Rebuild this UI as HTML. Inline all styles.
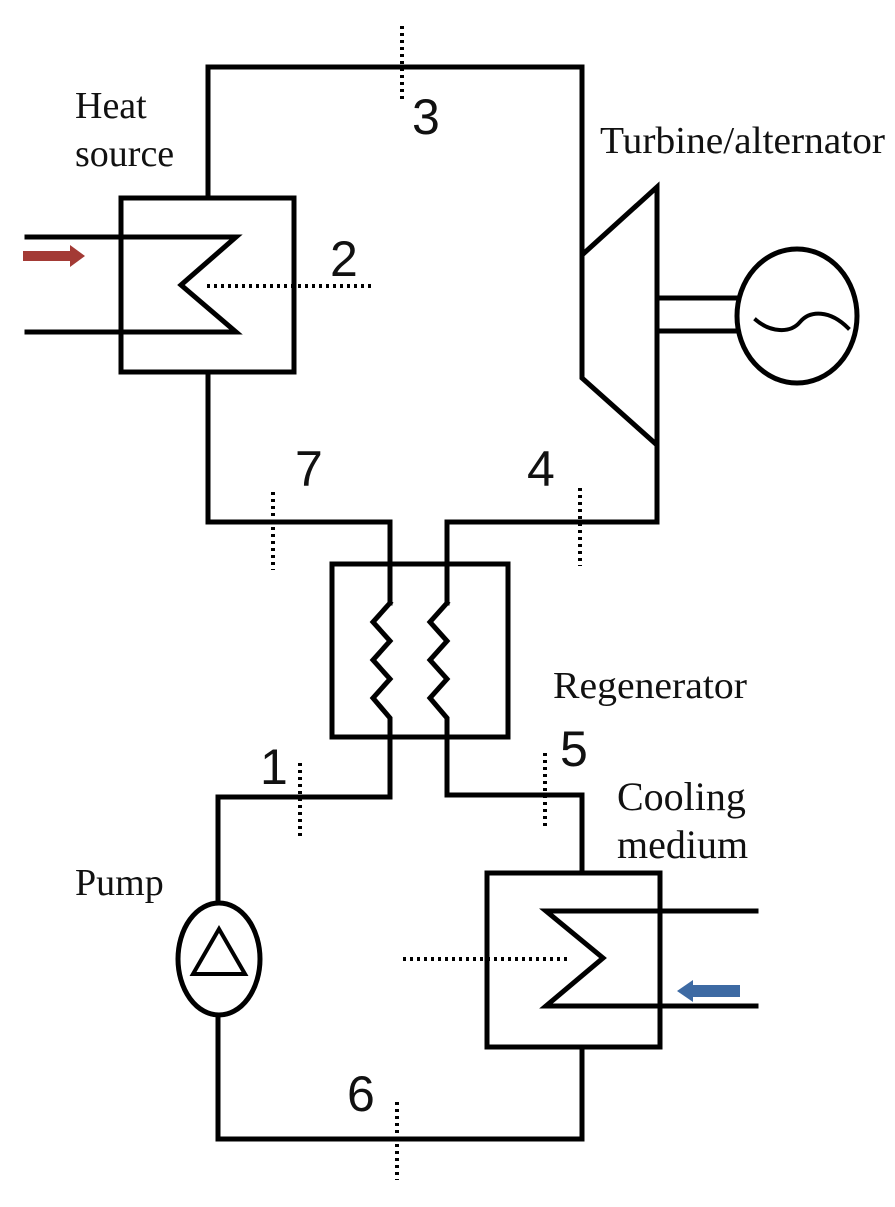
<!DOCTYPE html>
<html><head><meta charset="utf-8"><style>
html,body{margin:0;padding:0;background:#fff;}
svg{display:block;}
.t{font-family:"Liberation Serif",serif;fill:#111;}
.n{font-family:"Liberation Sans",sans-serif;fill:#111;}
</style></head><body>
<svg width="895" height="1207" viewBox="0 0 895 1207" xmlns="http://www.w3.org/2000/svg">
<g fill="none" stroke="#000" stroke-width="5" stroke-linejoin="miter" stroke-linecap="square">
<polyline points="208,196 208,67 582,67 582,255"/>
<polygon points="582,255 657,187 657,445 582,378"/>
<polyline points="657,445 657,522 447,522 447,603"/>
<line x1="657" y1="298" x2="738" y2="298"/>
<line x1="657" y1="331" x2="738" y2="331"/>
<ellipse cx="797" cy="316" rx="60" ry="67"/>
<path d="M756,320 C770,332 790,334 800,322 C810,310 830,310 848,328" stroke-width="4"/>
<rect x="121" y="198" width="173" height="174"/>
<polyline points="27,237 236,237 181,285 236,332 27,332"/>
<polyline points="208,372 208,522 390,522 390,603"/>
<rect x="332" y="564" width="176" height="173"/>
<polyline points="390,603 373,622 390,641 373,660 390,679 373,698 390,718 390,797 218,797 218,903"/>
<polyline points="447,603 430,622 447,641 430,660 447,679 430,698 447,718 447,795 582,795 582,872"/>
<rect x="487" y="873" width="173" height="174"/>
<polyline points="756,911 546,911 603,958 546,1006 756,1006"/>
<ellipse cx="219" cy="959" rx="41" ry="56"/>
<polygon points="219,929 193,974 245,974" stroke-width="4"/>
<polyline points="218,1015 218,1139 582,1139 582,1048"/>
</g>
<g stroke="#000" stroke-width="4" stroke-dasharray="3,4" fill="none">
<line x1="207" y1="286" x2="372" y2="286"/>
<line x1="402" y1="26" x2="402" y2="100"/>
<line x1="273" y1="492" x2="273" y2="570"/>
<line x1="580" y1="488" x2="580" y2="566"/>
<line x1="300" y1="763" x2="300" y2="840"/>
<line x1="545" y1="753" x2="545" y2="830"/>
<line x1="397" y1="1102" x2="397" y2="1180"/>
<line x1="403" y1="959" x2="567" y2="959"/>
</g>
<polygon points="23,251 70,251 70,245 85,256 70,267 70,261 23,261" fill="#a33a35"/>
<polygon points="740,985 693,985 693,980 677,991 693,1002 693,997 740,997" fill="#3d6aa3"/>
<text class="t" x="75" y="118" font-size="38">Heat</text>
<text class="t" x="75" y="166" font-size="38">source</text>
<text class="t" x="600" y="153" font-size="38" textLength="285" lengthAdjust="spacingAndGlyphs">Turbine/alternator</text>
<text class="t" x="553" y="698" font-size="38" textLength="194" lengthAdjust="spacingAndGlyphs">Regenerator</text>
<text class="t" x="617" y="810" font-size="40">Cooling</text>
<text class="t" x="617" y="858" font-size="40">medium</text>
<text class="t" x="75" y="895" font-size="38">Pump</text>
<text class="n" x="412" y="134" font-size="50">3</text>
<text class="n" x="330" y="276" font-size="50">2</text>
<text class="n" x="295" y="486" font-size="50">7</text>
<text class="n" x="527" y="486" font-size="50">4</text>
<text class="n" x="260" y="784" font-size="50">1</text>
<text class="n" x="560" y="766" font-size="50">5</text>
<text class="n" x="347" y="1111" font-size="50">6</text>
</svg>
</body></html>
